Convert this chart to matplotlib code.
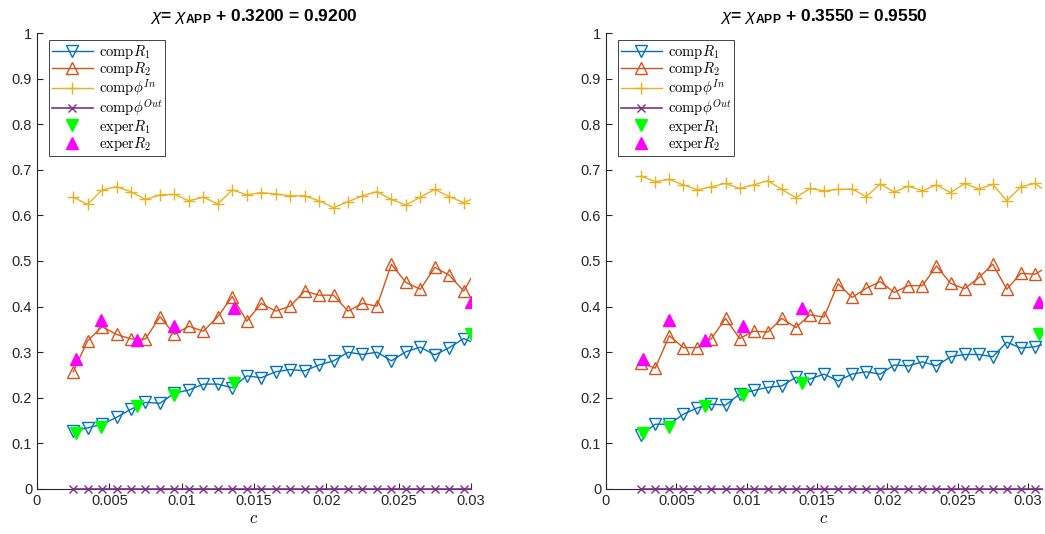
import numpy as np
import matplotlib.pyplot as plt

plt.rcParams['font.family'] = ['Liberation Sans', 'DejaVu Sans']
plt.rcParams['mathtext.fontset'] = 'cm'
# used only for the titles (math_fontfamily='custom')
plt.rcParams['mathtext.rm'] = 'Liberation Sans'
plt.rcParams['mathtext.it'] = 'Liberation Sans:italic'
plt.rcParams['mathtext.bf'] = 'Liberation Sans:bold'

# c values of the computed curves (last point has no marker)
c_left = [0.0025 + 0.001 * k for k in range(28)] + [0.03]
c_right = [0.0025 + 0.001 * k for k in range(29)] + [0.031]

R1_left = [0.127, 0.134, 0.142, 0.157, 0.175, 0.190, 0.188, 0.210, 0.217, 0.230,
           0.230, 0.222, 0.248, 0.244, 0.257, 0.262, 0.259, 0.272, 0.281, 0.300,
           0.295, 0.300, 0.281, 0.301, 0.311, 0.294, 0.310, 0.330, 0.323]
R2_left = [0.257, 0.325, 0.356, 0.339, 0.329, 0.329, 0.378, 0.339, 0.357, 0.346,
           0.378, 0.422, 0.368, 0.407, 0.390, 0.401, 0.434, 0.425, 0.425, 0.390,
           0.407, 0.401, 0.493, 0.453, 0.438, 0.486, 0.469, 0.434, 0.462]
phiIn_left = [0.640, 0.624, 0.656, 0.663, 0.652, 0.635, 0.645, 0.646, 0.632, 0.640,
              0.625, 0.656, 0.645, 0.650, 0.647, 0.643, 0.643, 0.632, 0.617, 0.630,
              0.643, 0.652, 0.635, 0.623, 0.640, 0.657, 0.641, 0.628, 0.635]

R1_right = [0.118, 0.142, 0.142, 0.164, 0.178, 0.186, 0.184, 0.208, 0.216, 0.223,
            0.226, 0.245, 0.241, 0.252, 0.237, 0.252, 0.257, 0.252, 0.272, 0.270,
            0.279, 0.270, 0.290, 0.295, 0.295, 0.290, 0.322, 0.309, 0.312, 0.316]
R2_right = [0.276, 0.265, 0.336, 0.310, 0.310, 0.330, 0.374, 0.330, 0.346, 0.344,
            0.374, 0.354, 0.382, 0.377, 0.450, 0.420, 0.440, 0.455, 0.431, 0.446,
            0.446, 0.489, 0.451, 0.439, 0.463, 0.493, 0.438, 0.473, 0.471, 0.480]
phiIn_right = [0.686, 0.674, 0.679, 0.667, 0.656, 0.663, 0.670, 0.659, 0.667, 0.676,
               0.657, 0.639, 0.659, 0.654, 0.657, 0.658, 0.641, 0.669, 0.651, 0.664,
               0.654, 0.667, 0.650, 0.670, 0.658, 0.668, 0.632, 0.663, 0.670, 0.659]

# experimental data
exp_c_left = [0.0027, 0.0044, 0.0069, 0.0095, 0.0136, 0.0300]
exp_c_right = [0.00265, 0.00448, 0.00704, 0.00977, 0.01392, 0.0308]
exp_R1 = [0.122, 0.135, 0.182, 0.206, 0.232, 0.340]
exp_R2 = [0.284, 0.371, 0.327, 0.358, 0.396, 0.409]

titles = [r'$\chi$= $\chi_{\mathbf{APP}}$ + 0.3200 = 0.9200',
          r'$\chi$= $\chi_{\mathbf{APP}}$ + 0.3550 = 0.9550']
xticks = [0, 0.005, 0.01, 0.015, 0.02, 0.025, 0.03]
xtick_labels = ['0', '0.005', '0.01', '0.015', '0.02', '0.025', '0.03']
yticks = [0, 0.1, 0.2, 0.3, 0.4, 0.5, 0.6, 0.7, 0.8, 0.9, 1]
ytick_labels = ['0', '0.1', '0.2', '0.3', '0.4', '0.5', '0.6', '0.7', '0.8', '0.9', '1']

blue = '#0072BD'
orange = '#D95319'
yellow = '#EDB120'
purple = '#7E2F8E'

fig = plt.figure(figsize=(10.45, 5.34), dpi=100)
ax1 = fig.add_axes([0.0354, 0.0843, 0.4153, 0.8539])
ax2 = fig.add_axes([0.5799, 0.0843, 0.4172, 0.8539])

panels = [
    (ax1, c_left, R1_left, R2_left, phiIn_left, exp_c_left, 0.03, titles[0]),
    (ax2, c_right, R1_right, R2_right, phiIn_right, exp_c_right, 0.031, titles[1]),
]

for ax, c, r1, r2, phi, ec, xmax, title in panels:
    n = len(c)
    marks = list(range(n - 1))
    zeros = [0.0] * n
    ax.plot(c, r1, '-', color=blue, lw=1, marker='v', ms=8, mfc='none',
            mew=1, markevery=marks, label=r'$\mathrm{comp}R_1$')
    ax.plot(c, r2, '-', color=orange, lw=1, marker='^', ms=8, mfc='none',
            mew=1, markevery=marks, label=r'$\mathrm{comp}R_2$')
    ax.plot(c, phi, '-', color=yellow, lw=1, marker='+', ms=8,
            mew=1, markevery=marks, label=r'$\mathrm{comp}\phi^{In}$')
    ax.plot(c, zeros, '-', color=purple, lw=1.2, marker='x', ms=6,
            mew=1, markevery=marks, clip_on=False, zorder=5,
            label=r'$\mathrm{comp}\phi^{Out}$')
    ax.plot(ec, exp_R1, 'v', color='#00FF00', ms=8, mec='#00FF00',
            ls='none', label=r'$\mathrm{exper}R_1$')
    ax.plot(ec, exp_R2, '^', color='#FF00FF', ms=8, mec='#FF00FF',
            ls='none', label=r'$\mathrm{exper}R_2$')

    ax.set_xlim(0, xmax)
    ax.set_ylim(0, 1)
    ax.set_xticks(xticks)
    ax.set_xticklabels(xtick_labels)
    ax.set_yticks(yticks)
    ax.set_yticklabels(ytick_labels)
    ax.tick_params(direction='in', length=4, labelsize=10.5, colors='#262626')
    ax.spines['top'].set_visible(False)
    ax.spines['right'].set_visible(False)
    for s in ['left', 'bottom']:
        ax.spines[s].set_color('#262626')
        ax.spines[s].set_linewidth(0.8)
    ax.set_xlabel(r'$c$', fontsize=12, labelpad=2)
    ax.set_title(title, fontsize=12.5, fontweight='bold', pad=2, y=1.02,
                 math_fontfamily='custom')

    leg = ax.legend(loc='upper left', bbox_to_anchor=(0.0276, 0.985),
                    borderaxespad=0, fancybox=False, framealpha=1,
                    edgecolor='#262626', fontsize=10.5, handlelength=2.8,
                    labelspacing=-0.05, borderpad=0.2, handletextpad=0.4)
    leg.get_frame().set_linewidth(0.6)

fig.savefig('out.png', dpi=100)
